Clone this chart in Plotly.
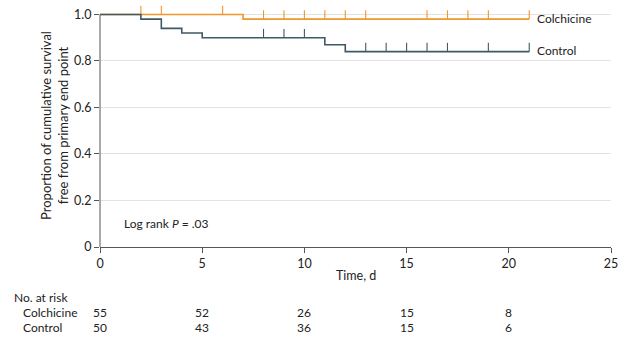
import plotly.graph_objects as go

# ---- data ----
colch_times = [0, 7, 21]
colch_surv = [1.0, 0.98, 0.98]
colch_censor = [2, 3, 6, 8, 9, 10, 11, 12, 13, 16, 17, 18, 19, 21]

ctrl_times = [0, 2, 3, 4, 5, 11, 12, 21]
ctrl_surv = [1.0, 0.98, 0.94, 0.92, 0.90, 0.87, 0.84, 0.84]
ctrl_censor = [8, 9, 10, 13, 14, 15, 16, 17, 19, 21]

risk_times = [0, 5, 10, 15, 20]
risk_colch = [55, 52, 26, 15, 8]
risk_ctrl = [50, 43, 36, 15, 6]

ytick_vals = [0, 0.2, 0.4, 0.6, 0.8, 1.0]
ytick_text = ["0", "0.2", "0.4", "0.6", "0.8", "1.0"]
xtick_vals = [0, 5, 10, 15, 20, 25]

ORANGE = "#F0962A"
SLATE = "#3E5A66"
FONT = "Lato"
TXT = "#222"
YTOP = 1.045

def surv_at(times, surv, t):
    v = surv[0]
    for ti, si in zip(times, surv):
        if ti <= t:
            v = si
    return v

def censor_segments(times, surv, cens, h=0.038):
    xs, ys = [], []
    for t in cens:
        s = surv_at(times, surv, t)
        xs += [t, t, None]
        ys += [s, s + h, None]
    return xs, ys

fig = go.Figure()

for times, surv, cens, col in [
    (colch_times, colch_surv, colch_censor, ORANGE),
    (ctrl_times, ctrl_surv, ctrl_censor, SLATE),
]:
    fig.add_trace(go.Scatter(x=times, y=surv, mode="lines",
                             line=dict(color=col, width=1.6, shape="hv"),
                             showlegend=False, hoverinfo="skip"))
    cx, cy = censor_segments(times, surv, cens)
    fig.add_trace(go.Scatter(x=cx, y=cy, mode="lines",
                             line=dict(color=col, width=1.1),
                             showlegend=False, hoverinfo="skip"))

annotations = []
for label, times, surv in [("Colchicine", colch_times, colch_surv), ("Control", ctrl_times, ctrl_surv)]:
    annotations.append(dict(x=times[-1], y=surv[-1], xref="x", yref="y",
                            text=label, showarrow=False, xanchor="left", yanchor="middle",
                            xshift=6, yshift=1, font=dict(family=FONT, size=12, color=TXT)))
annotations.append(dict(x=0.0436, y=0.103 / YTOP, xref="paper", yref="paper",
                        text="Log rank <i>P</i> = .03", showarrow=False,
                        xanchor="left", yanchor="middle",
                        font=dict(family=FONT, size=12, color=TXT)))
annotations.append(dict(x=0.5, y=-0.123 / YTOP, xref="paper", yref="paper", text="Time, d",
                        showarrow=False, xanchor="center", yanchor="middle",
                        font=dict(family=FONT, size=12.5, color=TXT)))
annotations.append(dict(x=-0.172, y=-0.218 / YTOP, xref="paper", yref="paper", text="No. at risk",
                        showarrow=False, xanchor="left", yanchor="middle",
                        font=dict(family=FONT, size=12, color=TXT)))
for label, vals, yy in [("Colchicine", risk_colch, -0.282), ("Control", risk_ctrl, -0.346)]:
    annotations.append(dict(x=-0.155, y=yy / YTOP, xref="paper", yref="paper", text=label,
                            showarrow=False, xanchor="left", yanchor="middle",
                            font=dict(family=FONT, size=12, color=TXT)))
    for t, v in zip(risk_times, vals):
        annotations.append(dict(x=t, y=yy / YTOP, xref="x", yref="paper", text=str(v),
                                showarrow=False, xanchor="center", yanchor="middle",
                                font=dict(family=FONT, size=12, color=TXT)))

fig.update_layout(
    width=638, height=351,
    margin=dict(l=100, r=27, t=4, b=104),
    paper_bgcolor="white", plot_bgcolor="white",
    annotations=annotations,
    shapes=[dict(type="line", xref="paper", yref="y", x0=0, x1=0, y0=0, y1=1.0,
                 line=dict(color="#555", width=1), layer="above")],
    xaxis=dict(range=[0, 25], tickvals=xtick_vals, showgrid=False, zeroline=False,
               showline=True, linecolor="#555", linewidth=1,
               ticks="outside", ticklen=5, tickcolor="#555",
               tickfont=dict(family=FONT, size=12.5, color=TXT)),
    yaxis=dict(range=[0, YTOP], tickvals=ytick_vals, ticktext=ytick_text,
               showgrid=True, gridcolor="#E3E3E3", gridwidth=1, zeroline=False,
               showline=False,
               ticks="outside", ticklen=5, tickcolor="#555",
               tickfont=dict(family=FONT, size=12.5, color=TXT),
               title=dict(text="Proportion of cumulative survival<br>free from primary end point",
                          font=dict(family=FONT, size=13, color=TXT), standoff=2)),
)

fig.write_html("out.html")
